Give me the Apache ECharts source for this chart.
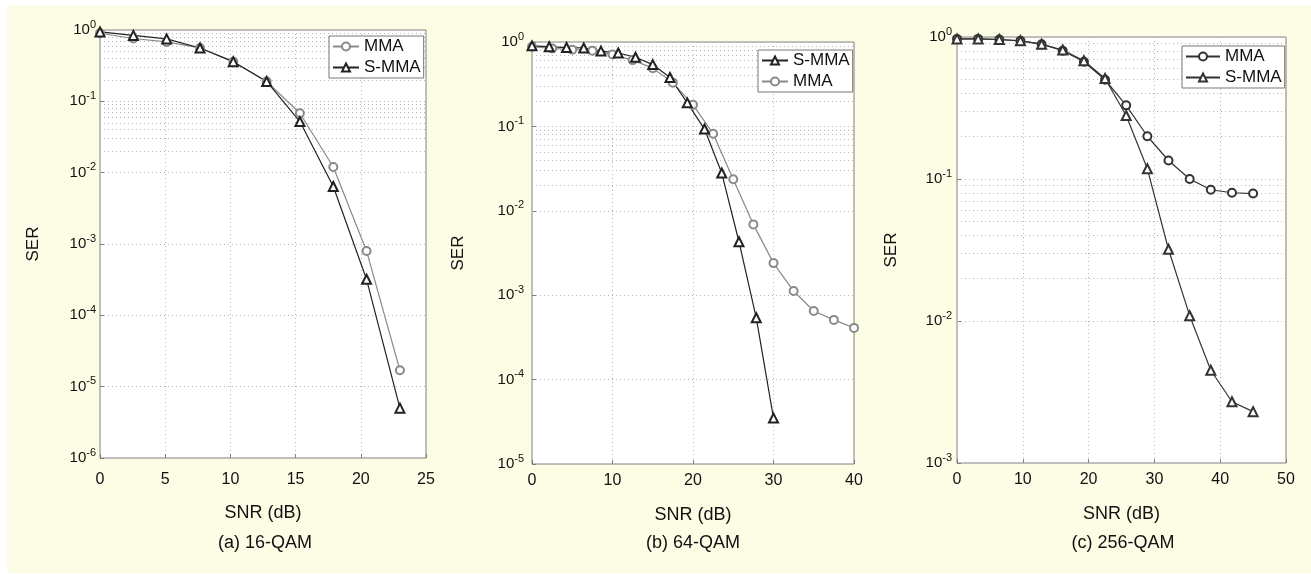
<!DOCTYPE html>
<html>
<head>
<meta charset="utf-8">
<script src="https://cdn.jsdelivr.net/npm/echarts@6/dist/echarts.min.js"></script>
<style>
  html, body { margin: 0; padding: 0; background: #fff; }
  #wrap { position: relative; width: 1311px; height: 574px; }
  #panel { position: absolute; left: 7px; top: 5px; width: 1304px; height: 568px; background: #fdfde6; }
  #chart { position: absolute; left: 0; top: 0; width: 1311px; height: 574px; }
</style>
</head>
<body>
<div id="wrap">
  <div id="panel"></div>
  <div id="chart"></div>
</div>
<script>
// (a) 16-QAM
const snrA = [0, 2.56, 5.11, 7.67, 10.22, 12.78, 15.33, 17.89, 20.44, 23.0]
const mmaA = [0.9, 0.76, 0.68, 0.56, 0.36, 0.19, 0.068, 0.012, 0.0008, 1.7e-5]
const smmaA = [0.94, 0.84, 0.75, 0.56, 0.36, 0.19, 0.052, 0.0064, 0.00032, 5e-6]

// (b) 64-QAM
const snrB_smma = [0, 2.14, 4.29, 6.43, 8.57, 10.71, 12.86, 15, 17.14, 19.29, 21.43, 23.57, 25.71, 27.86, 30]
const smmaB = [0.9, 0.88, 0.86, 0.85, 0.78, 0.74, 0.66, 0.54, 0.38, 0.19, 0.093, 0.028, 0.0043, 0.00054, 3.5e-5]
const snrB_mma = [0, 2.5, 5, 7.5, 10, 12.5, 15, 17.5, 20, 22.5, 25, 27.5, 30, 32.5, 35, 37.5, 40]
const mmaB = [0.88, 0.84, 0.81, 0.79, 0.71, 0.61, 0.49, 0.33, 0.18, 0.082, 0.0236, 0.0069, 0.0024, 0.00112, 0.00065, 0.00051, 0.00041]

// (c) 256-QAM
const snrC = [0, 3.21, 6.43, 9.64, 12.86, 16.07, 19.29, 22.5, 25.71, 28.93, 32.14, 35.36, 38.57, 41.79, 45]
const mmaC = [0.97, 0.97, 0.96, 0.94, 0.89, 0.80, 0.67, 0.50, 0.33, 0.20, 0.135, 0.10, 0.084, 0.080, 0.079]
const smmaC = [0.97, 0.97, 0.96, 0.94, 0.89, 0.81, 0.68, 0.51, 0.28, 0.118, 0.032, 0.0109, 0.0045, 0.0027, 0.0023]

const captions = ['(a) 16-QAM', '(b) 64-QAM', '(c) 256-QAM']

const font = "'Liberation Sans', Arial, sans-serif"
const grey = '#8a8a8a'
const dark = '#222'
const gridDots = '#b8b8b8'

const pairs = (xs, ys) => xs.map((x, i) => [x, ys[i]])

// 2..9 x 10^e lines inside each decade
function minorLines(minExp) {
    const out = []
    for (let e = minExp; e < 0; e++) {
        for (let k = 2; k <= 9; k++) out.push({yAxis: k * Math.pow(10, e)})
    }
    return out
}

const grids = [
    {left: 100, top: 30, width: 326, height: 428},
    {left: 532, top: 42, width: 322, height: 422},
    {left: 957, top: 37, width: 329, height: 426}
]

const xAxes = [
    {max: 25, interval: 5, margin: 14, nameGap: 46},
    {max: 40, interval: 10, margin: 9, nameGap: 42},
    {max: 50, interval: 10, margin: 9, nameGap: 42}
]
const yAxes = [
    {min: 1e-6, margin: 4, nameGap: 58},
    {min: 1e-5, margin: 8, nameGap: 65},
    {min: 1e-3, margin: 5, nameGap: 57}
]

function expLabel(v) {
    const e = Math.round(Math.log10(v))
    return '{b|10}{e|' + e + '}'
}

const option = {
    animation: false,
    textStyle: {fontFamily: font},
    title: captions.map((t, i) => ({
        text: t,
        left: [265, 693, 1123][i],
        top: 534,
        textAlign: 'center',
        padding: 0,
        textStyle: {fontSize: 18, fontWeight: 'normal', color: '#111', fontFamily: font}
    })),
    grid: grids.map(g => Object.assign({
        show: true, backgroundColor: '#fff', borderColor: '#808080', borderWidth: 1
    }, g)),
    xAxis: xAxes.map((a, i) => ({
        type: 'value', gridIndex: i, min: 0, max: a.max, interval: a.interval,
        name: 'SNR (dB)', nameLocation: 'middle', nameGap: a.nameGap,
        nameTextStyle: {fontSize: 18, color: '#111', fontFamily: font},
        axisLine: {show: false},
        axisTick: {show: true, inside: true, length: 4, lineStyle: {color: '#808080'}},
        axisLabel: {fontSize: 16, color: '#111', margin: a.margin, fontFamily: font},
        splitLine: {show: true, lineStyle: {color: gridDots, type: [1, 3]}}
    })),
    yAxis: yAxes.map((a, i) => ({
        type: 'log', logBase: 10, gridIndex: i, min: a.min, max: 1,
        name: 'SER', nameLocation: 'middle', nameGap: a.nameGap, nameRotate: 90,
        nameTextStyle: {fontSize: 17, color: '#111', fontFamily: font},
        axisLine: {show: false},
        axisTick: {show: true, inside: true, length: 4, lineStyle: {color: '#808080'}},
        axisLabel: {
            margin: a.margin,
            formatter: expLabel,
            rich: {
                b: {fontSize: 15, color: '#111', fontFamily: font, lineHeight: 22},
                e: {fontSize: 11, color: '#111', fontFamily: font, lineHeight: 11, verticalAlign: 'top'}
            }
        },
        splitLine: {show: true, lineStyle: {color: gridDots, type: [1, 3]}}
    })),
    legend: [
        {data: ['a:MMA', 'a:S-MMA'], left: 329, top: 36, itemWidth: 26},
        {data: ['b:S-MMA', 'b:MMA'], left: 758, top: 50, itemWidth: 26},
        {data: ['c:MMA', 'c:S-MMA'], left: 1182, top: 46, itemWidth: 34}
    ].map(l => Object.assign({
        orient: 'vertical', itemHeight: 10, itemGap: 4, padding: [2, 3, 2, 3],
        borderColor: '#777', borderWidth: 1, backgroundColor: '#fff',
        selectedMode: false,
        formatter: n => n.split(':')[1],
        textStyle: {fontSize: 17, color: '#111', fontFamily: font}
    }, l)),
    series: [
        {name: 'a:MMA', xIdx: 0, xs: snrA, ys: mmaA, sym: 'emptyCircle', color: grey, minor: -6},
        {name: 'a:S-MMA', xIdx: 0, xs: snrA, ys: smmaA, sym: 'emptyTriangle', color: dark},
        {name: 'b:MMA', xIdx: 1, xs: snrB_mma, ys: mmaB, sym: 'emptyCircle', color: grey, minor: -5},
        {name: 'b:S-MMA', xIdx: 1, xs: snrB_smma, ys: smmaB, sym: 'emptyTriangle', color: dark},
        {name: 'c:MMA', xIdx: 2, xs: snrC, ys: mmaC, sym: 'emptyCircle', color: '#333', minor: -3},
        {name: 'c:S-MMA', xIdx: 2, xs: snrC, ys: smmaC, sym: 'emptyTriangle', color: '#333'}
    ].map(s => {
        const ser = {
            name: s.name, type: 'line',
            xAxisIndex: s.xIdx, yAxisIndex: s.xIdx,
            data: pairs(s.xs, s.ys),
            symbol: s.sym,
            symbolSize: s.sym === 'emptyCircle' ? 8 : 9,
            color: s.color,
            lineStyle: {color: s.color, width: 1.2},
            itemStyle: {color: s.color, borderWidth: 1.1},
            z: 3
        }
        if (s.minor !== undefined) {
            ser.markLine = {
                silent: true, symbol: 'none', z: 1,
                label: {show: false},
                emphasis: {disabled: true},
                lineStyle: {color: gridDots, type: [1, 3], width: 1},
                data: minorLines(s.minor)
            }
        }
        return ser
    })
}

echarts.init(document.getElementById('chart')).setOption(option)
</script>
</body>
</html>
